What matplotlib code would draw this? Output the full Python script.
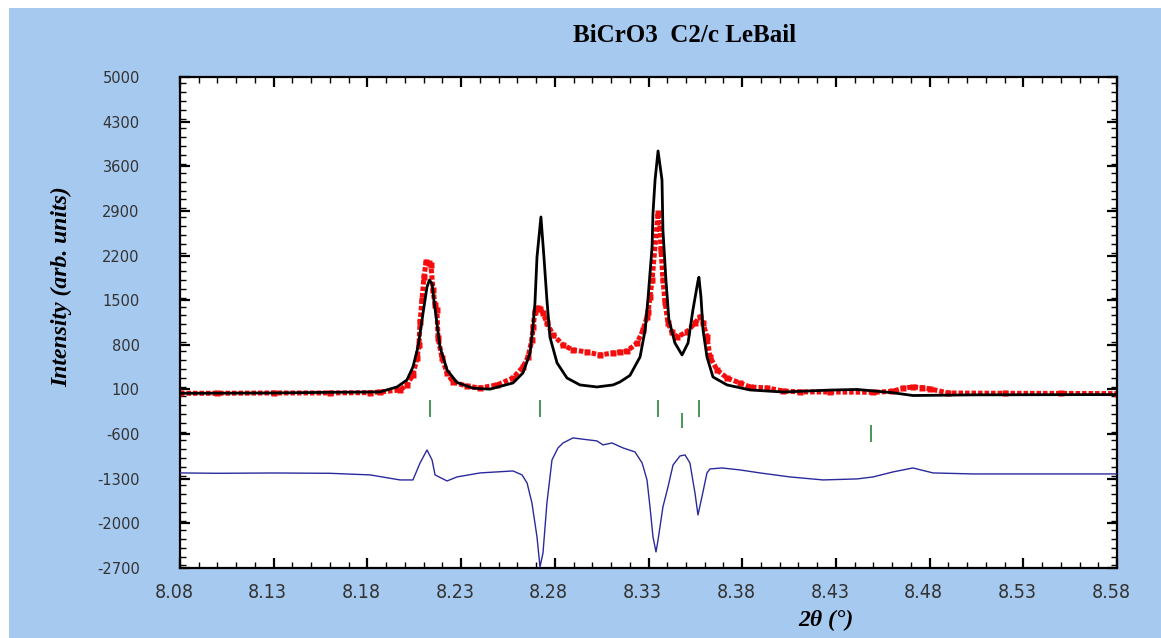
import numpy as np
import matplotlib
matplotlib.use("Agg")
import matplotlib.pyplot as plt
from matplotlib.patches import Rectangle
from matplotlib.ticker import MultipleLocator, FixedLocator
from matplotlib.transforms import ScaledTranslation
from matplotlib import font_manager

# observed profile (red points)
obs_x = [8.0800, 8.1000, 8.1300, 8.1600, 8.1814, 8.1867, 8.1974, 8.2011, 8.2043, 8.2065,
         8.2075, 8.2081, 8.2091, 8.2102, 8.2113, 8.2129, 8.2139, 8.2150, 8.2161, 8.2171,
         8.2177, 8.2198, 8.2225, 8.2257, 8.2332, 8.2401, 8.2492, 8.2577, 8.2630, 8.2657,
         8.2678, 8.2684, 8.2694, 8.2710, 8.2721, 8.2737, 8.2758, 8.2790, 8.2844, 8.2897,
         8.2972, 8.3041, 8.3111, 8.3148, 8.3185, 8.3239, 8.3271, 8.3292, 8.3298, 8.3308,
         8.3319, 8.3351, 8.3361, 8.3367, 8.3377, 8.3388, 8.3404, 8.3425, 8.3452, 8.3505,
         8.3548, 8.3575, 8.3591, 8.3612, 8.3628, 8.3666, 8.3719, 8.3788, 8.3842, 8.3932,
         8.4018, 8.4108, 8.4268, 8.4500, 8.4600, 8.4660, 8.4711, 8.4760, 8.4800, 8.4900,
         8.5200, 8.5500, 8.5800]
obs_y = [40, 40, 45, 45, 50, 60, 92, 171, 330, 594,
         798, 1158, 1503, 1864, 2099, 2084, 2052, 1660, 1425, 1347,
         907, 594, 359, 218, 150, 124, 171, 280, 453, 610,
         876, 1080, 1315, 1378, 1362, 1299, 1143, 960, 798, 719,
         688, 641, 672, 688, 700, 829, 1033, 1237, 1315, 1550,
         1817, 2867, 2632, 2287, 1817, 1472, 1143, 1002, 923, 1002,
         1143, 1237, 1143, 923, 610, 406, 280, 202, 139, 124,
         77, 61, 60, 55, 70, 120, 139, 130, 110, 45,
         40, 38, 35]

# calculated profile (black line)
calc_x = [8.0800, 8.1300, 8.1600, 8.1867, 8.1958, 8.2011, 8.2043, 8.2070, 8.2097, 8.2118,
          8.2131, 8.2145, 8.2155, 8.2171, 8.2187, 8.2225, 8.2278, 8.2363, 8.2454, 8.2577,
          8.2630, 8.2668, 8.2684, 8.2694, 8.2705, 8.2726, 8.2742, 8.2758, 8.2774, 8.2812,
          8.2865, 8.2934, 8.3025, 8.3111, 8.3148, 8.3201, 8.3255, 8.3282, 8.3298, 8.3319,
          8.3324, 8.3335, 8.3351, 8.3372, 8.3377, 8.3393, 8.3409, 8.3441, 8.3479, 8.3511,
          8.3537, 8.3564, 8.3569, 8.3580, 8.3591, 8.3612, 8.3644, 8.3719, 8.3842, 8.4018,
          8.4268, 8.4413, 8.4600, 8.4711, 8.5032, 8.5800]
calc_y = [40, 45, 55, 61, 139, 249, 453, 767, 1299, 1707,
          1815, 1760, 1503, 1143, 767, 406, 210, 120, 105, 202,
          359, 672, 1100, 1450, 2178, 2805, 2178, 1503, 923, 516,
          280, 171, 139, 171, 218, 320, 610, 1033, 1550, 2334,
          2867, 3385, 3840, 3385, 2601, 1817, 1190, 829, 641, 829,
          1347, 1800, 1860, 1550, 1033, 610, 296, 171, 92, 60,
          90, 100, 50, 5, 15, 20]

# difference curve (blue)
diff_x = [8.0800, 8.1000, 8.1300, 8.1600, 8.1814, 8.1974, 8.2043, 8.2081, 8.2118, 8.2145,
          8.2161, 8.2225, 8.2278, 8.2401, 8.2577, 8.2625, 8.2652, 8.2678, 8.2705, 8.2721,
          8.2737, 8.2758, 8.2785, 8.2817, 8.2844, 8.2897, 8.2950, 8.3025, 8.3057, 8.3105,
          8.3164, 8.3228, 8.3266, 8.3292, 8.3308, 8.3324, 8.3340, 8.3351, 8.3377, 8.3404,
          8.3431, 8.3468, 8.3495, 8.3521, 8.3548, 8.3564, 8.3585, 8.3612, 8.3628, 8.3692,
          8.3788, 8.3895, 8.4055, 8.4231, 8.4413, 8.4498, 8.4605, 8.4711, 8.4818, 8.5032,
          8.5800]
diff_y = [-1209, -1215, -1210, -1215, -1240, -1319, -1319, -1053, -849, -1005,
          -1240, -1335, -1272, -1209, -1178, -1240, -1366, -1680, -2213, -2683,
          -2464, -1680, -1005, -817, -739, -660, -680, -707, -770, -739,
          -817, -880, -1053, -1319, -1742, -2213, -2448, -2260, -1742, -1429,
          -1084, -943, -927, -1053, -1523, -1868, -1586, -1209, -1147, -1131,
          -1162, -1209, -1272, -1319, -1303, -1272, -1193, -1131, -1209, -1225,
          -1225]

# Bragg reflection markers (green)
refl_x = [8.2134, 8.2721, 8.3351, 8.3569, 8.3479, 8.4487]
refl_lo = [-330, -330, -330, -330, -500, -720]
refl_hi = [-65, -65, -65, -65, -270, -450]

xticks = [8.08, 8.13, 8.18, 8.23, 8.28, 8.33, 8.38, 8.43, 8.48, 8.53, 8.58]
yticks = [5000, 4300, 3600, 2900, 2200, 1500, 800, 100, -600, -1300, -2000, -2700]

# a narrow regular sans for the x tick labels, if one is there
narrow = None
for f in font_manager.fontManager.ttflist:
    if f.weight not in (400, 'normal', 'regular', 'book') or f.style != 'normal':
        continue
    if f.name == 'Liberation Sans Narrow' or (f.name == 'DejaVu Sans' and f.stretch == 'condensed'):
        narrow = f.fname
        break
if narrow:
    xfont = font_manager.FontProperties(fname=narrow, size=14)
else:
    xfont = font_manager.FontProperties(family='DejaVu Sans', size=12)

W, H = 1161, 638
fig = plt.figure(figsize=(W / 100, H / 100), dpi=100, facecolor='#a6c9ef')
# thin white strips along the top and left edge
fig.patches.append(Rectangle((0, 0), 9 / W, 1, transform=fig.transFigure,
                             facecolor='white', edgecolor='none', zorder=-5))
fig.patches.append(Rectangle((0, 1 - 8 / H), 1, 8 / H, transform=fig.transFigure,
                             facecolor='white', edgecolor='none', zorder=-5))

ax = fig.add_axes([180 / W, 70 / H, 937 / W, 491 / H])
ax.set_facecolor('white')

ax.plot(obs_x, obs_y, color='#f50d0d', lw=3.6, ls=(0, (0.9, 0.4)),
        dash_capstyle='butt', zorder=2)
ax.plot(obs_x, obs_y, ls='none', marker='s', ms=4.2, color='#f50d0d', mec='none', zorder=2)
ax.plot(calc_x, calc_y, color='black', lw=2.0, zorder=3)
ax.plot(diff_x, diff_y, color='#2a2a9c', lw=1.0, zorder=3)
ax.vlines(refl_x, refl_lo, refl_hi, color='#3a8f4a', lw=1.3, zorder=3)

ax.set_xlim(8.08, 8.58)
ax.set_ylim(-2700, 5000)
ax.xaxis.set_major_locator(FixedLocator(xticks))
ax.xaxis.set_minor_locator(MultipleLocator(0.01))
ax.yaxis.set_major_locator(FixedLocator(yticks))
ax.yaxis.set_minor_locator(MultipleLocator(140))
ax.set_xticklabels(['%.2f' % v for v in xticks])
ax.set_yticklabels([str(v) for v in yticks])

ax.tick_params(which='both', direction='in', top=True, right=True)
ax.tick_params(which='major', length=7, width=1.6)
ax.tick_params(which='minor', length=4, width=1.0)
ax.tick_params(axis='y', pad=29, labelsize=10.5, labelcolor='#333333')
ax.tick_params(axis='x', pad=11, labelcolor='#333333')
for lab in ax.get_xticklabels():
    lab.set_fontproperties(xfont)
    lab.set_transform(lab.get_transform() + ScaledTranslation(-0.06, 0, fig.dpi_scale_trans))
for lab in ax.get_yticklabels():
    lab.set_family('DejaVu Sans')
for s in ax.spines.values():
    s.set_linewidth(1.6)

fig.text(685 / W, 1 - 36 / H, 'BiCrO3  C2/c LeBail', ha='center', va='center',
         family='Liberation Serif', weight='bold', fontsize=18)
fig.text(62 / W, 1 - 287 / H, 'Intensity (arb. units)', rotation=90, ha='center',
         va='center', family='Liberation Serif', weight='bold', style='italic', fontsize=17)
fig.text(826 / W, 1 - 620 / H, '2θ (°)', ha='center', va='center',
         family='Liberation Serif', weight='bold', style='italic', fontsize=17)

fig.savefig('out.png', dpi=100, facecolor=fig.get_facecolor())
